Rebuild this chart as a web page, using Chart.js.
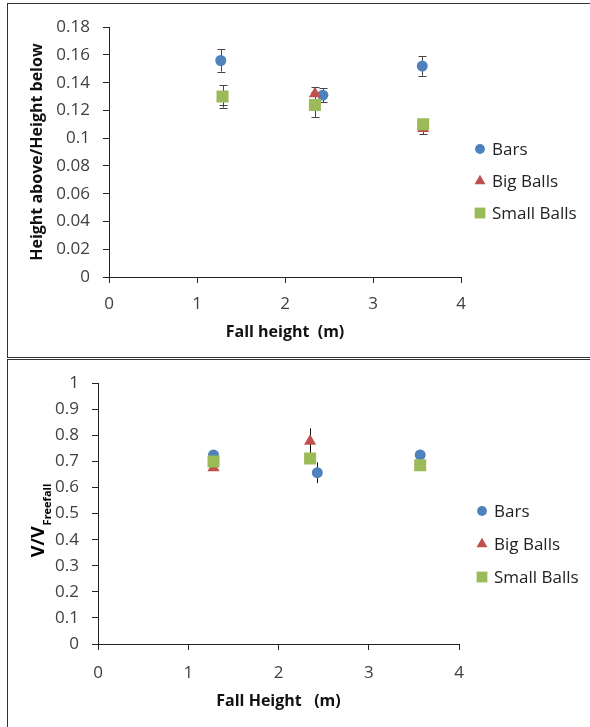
<!DOCTYPE html>
<html>
<head>
<meta charset="utf-8">
<script src="https://cdn.jsdelivr.net/npm/chart.js@4.4.1/dist/chart.umd.min.js"></script>
<style>
  html, body { margin: 0; padding: 0; background: #fff; overflow: hidden; width: 590px; height: 727px; }
  .box { position: absolute; left: 7px; width: 700px; border: 1px solid #333; box-sizing: border-box; }
  #box1 { top: 3px; height: 355px; }
  #box2 { top: 359px; height: 420px; }
  canvas { position: absolute; }
  #chart1 { left: 8px; top: 4px; }
  #chart2 { left: 8px; top: 360px; }
</style>
</head>
<body>
<div class="box" id="box1"></div>
<div class="box" id="box2"></div>
<canvas id="chart1" width="582" height="353"></canvas>
<canvas id="chart2" width="582" height="367"></canvas>
<script>
const seriesNames = ['Bars', 'Big Balls', 'Small Balls'];
const xTickLabels = ['0', '1', '2', '3', '4'];

// top chart: height above / height below
const ratioYTicks = ['0', '0.02', '0.04', '0.06', '0.08', '0.1', '0.12', '0.14', '0.16', '0.18'];
const barsX1 = [1.27, 2.43, 3.56];
const barsY1 = [0.156, 0.131, 0.152];
const barsErr1 = [0.008, 0.005, 0.007];
const bigX1 = [1.29, 2.34, 3.57];
const bigY1 = [0.129, 0.132, 0.107];
const bigErr1 = [0.005, 0.005, 0.004];
const smallX1 = [1.29, 2.34, 3.57];
const smallY1 = [0.130, 0.124, 0.110];
const smallErr1 = [0.008, 0.009, 0.003];

// bottom chart: V / V freefall
const velYTicks = ['0', '0.1', '0.2', '0.3', '0.4', '0.5', '0.6', '0.7', '0.8', '0.9', '1'];
const barsX2 = [1.28, 2.43, 3.57];
const barsY2 = [0.725, 0.657, 0.725];
const barsErr2 = [0.01, 0.04, 0.02];
const bigX2 = [1.28, 2.35, 3.57];
const bigY2 = [0.676, 0.777, 0.68];
const bigErr2 = [0.01, 0.05, 0.01];
const smallX2 = [1.28, 2.35, 3.57];
const smallY2 = [0.70, 0.711, 0.685];
const smallErr2 = [0.01, 0.01, 0.01];

const FONT = "'Open Sans', 'Liberation Sans', sans-serif";
const blue = '#4F81BD', red = '#C0504D', green = '#9BBB59';

function pts(xs, ys) {
  return xs.map((x, i) => ({ x: x, y: ys[i] }));
}

function makeDatasets(bx, by, be, rx, ry, re, gx, gy, ge) {
  return [
    { label: seriesNames[0], data: pts(bx, by), errors: be, pointStyle: 'circle', pointRadius: 5.5,
      backgroundColor: blue, borderColor: blue, borderWidth: 0, order: 3 },
    { label: seriesNames[1], data: pts(rx, ry), errors: re, pointStyle: 'triangle', pointRadius: 7,
      backgroundColor: red, borderColor: red, borderWidth: 0, order: 2 },
    { label: seriesNames[2], data: pts(gx, gy), errors: ge, pointStyle: 'rect', pointRadius: 8.5,
      backgroundColor: green, borderColor: green, borderWidth: 0, order: 1 }
  ];
}

const errorBars = {
  id: 'errorBars',
  beforeDatasetsDraw(chart, args, opts) {
    const { ctx, scales: { x, y } } = chart;
    ctx.save();
    ctx.strokeStyle = opts.color;
    ctx.lineWidth = 1;
    chart.data.datasets.forEach(ds => {
      ds.data.forEach((p, i) => {
        const e = ds.errors[i];
        const px = Math.round(x.getPixelForValue(p.x)) + 0.5;
        const t = y.getPixelForValue(p.y + e);
        const b = y.getPixelForValue(p.y - e);
        ctx.beginPath();
        ctx.moveTo(px, t); ctx.lineTo(px, b);
        if (opts.cap > 0) {
          ctx.moveTo(px - opts.cap, Math.round(t) + 0.5); ctx.lineTo(px + opts.cap, Math.round(t) + 0.5);
          ctx.moveTo(px - opts.cap, Math.round(b) + 0.5); ctx.lineTo(px + opts.cap, Math.round(b) + 0.5);
        }
        ctx.stroke();
      });
    });
    ctx.restore();
  }
};

const sideLegend = {
  id: 'sideLegend',
  afterDraw(chart, args, opts) {
    const ctx = chart.ctx;
    ctx.save();
    chart.data.datasets.forEach((ds, i) => {
      const y = opts.top + i * opts.gap;
      ctx.fillStyle = ds.backgroundColor;
      ctx.strokeStyle = ds.backgroundColor;
      Chart.helpers.drawPoint(ctx, { pointStyle: ds.pointStyle, radius: ds.pointRadius * 0.9, borderWidth: 0, rotation: 0 }, opts.x, y);
      ctx.fillStyle = '#222';
      ctx.font = '17px ' + FONT;
      ctx.textBaseline = 'middle';
      ctx.textAlign = 'left';
      ctx.fillText(ds.label, opts.x + 12, y + 1);
    });
    ctx.restore();
  }
};

const vTitle = {
  id: 'vTitle',
  afterDraw(chart, args, opts) {
    if (!opts.on) return;
    const ctx = chart.ctx;
    ctx.save();
    ctx.translate(opts.x, opts.y);
    ctx.rotate(-Math.PI / 2);
    ctx.fillStyle = '#000';
    ctx.textBaseline = 'alphabetic';
    const big = 'bold 18px ' + FONT, small = 'bold 11px ' + FONT;
    ctx.font = big;
    const w1 = ctx.measureText('V/V').width;
    ctx.font = small;
    const w2 = ctx.measureText('Freefall').width;
    let sx = -(w1 + w2) / 2;
    ctx.font = big;
    ctx.fillText('V/V', sx, 0);
    ctx.font = small;
    ctx.fillText('Freefall', sx + w1 + 1, 7);
    ctx.restore();
  }
};

function axisBase(title, pad) {
  return {
    type: 'linear',
    border: { color: '#222', width: 1 },
    grid: { drawOnChartArea: false, drawTicks: true, tickLength: 6, color: '#222' },
    ticks: { color: '#404040', font: { family: FONT, size: 17 }, padding: pad },
    title: { display: !!title, text: title, color: '#111', font: { family: FONT, size: 16, weight: 'bold' } }
  };
}

function makeChart(id, datasets, cfg) {
  const xs = axisBase(cfg.xTitle, cfg.xPad);
  xs.min = 0; xs.max = 4;
  xs.ticks.stepSize = 1;
  xs.ticks.callback = (v, i) => xTickLabels[i];
  xs.title.padding = { top: 0, bottom: cfg.xTitlePad };
  xs.afterFit = s => { s.height = cfg.xHeight; };
  const ys = axisBase(cfg.yTitle, cfg.yPad);
  ys.min = 0; ys.max = cfg.yMax;
  ys.ticks.stepSize = cfg.yStep;
  ys.ticks.callback = (v, i) => cfg.yLabels[i];
  ys.title.padding = { top: 20, bottom: 0 };
  ys.afterFit = s => { s.width = cfg.yWidth; };
  return new Chart(document.getElementById(id), {
    type: 'scatter',
    data: { datasets: datasets },
    options: {
      responsive: false,
      animation: false,
      devicePixelRatio: 1,
      layout: { padding: { top: cfg.top, right: cfg.right, left: 0, bottom: 0 } },
      scales: { x: xs, y: ys },
      plugins: {
        legend: { display: false },
        tooltip: { enabled: false },
        errorBars: { color: cfg.errColor, cap: cfg.cap },
        sideLegend: cfg.legend,
        vTitle: cfg.vTitle
      }
    },
    plugins: [errorBars, sideLegend, vTitle]
  });
}

makeChart('chart1',
  makeDatasets(barsX1, barsY1, barsErr1, bigX1, bigY1, bigErr1, smallX1, smallY1, smallErr1),
  { xTitle: 'Fall height  (m)', yTitle: 'Height above/Height below', yMax: 0.18, yStep: 0.02,
    yLabels: ratioYTicks, yWidth: 101, yPad: 13, xPad: 11, xTitlePad: 15, xHeight: 80, top: 19, right: 129,
    errColor: '#444', cap: 4, legend: { x: 472, top: 145, gap: 32 }, vTitle: { on: false } });

makeChart('chart2',
  makeDatasets(barsX2, barsY2, barsErr2, bigX2, bigY2, bigErr2, smallX2, smallY2, smallErr2),
  { xTitle: 'Fall Height   (m)', yTitle: '', yMax: 1, yStep: 0.1,
    yLabels: velYTicks, yWidth: 90, yPad: 13, xPad: 13, xTitlePad: 16, xHeight: 83, top: 19, right: 131,
    errColor: '#111', cap: 0, legend: { x: 474, top: 151, gap: 33 }, vTitle: { on: true, x: 36, y: 161 } });
</script>
</body>
</html>
